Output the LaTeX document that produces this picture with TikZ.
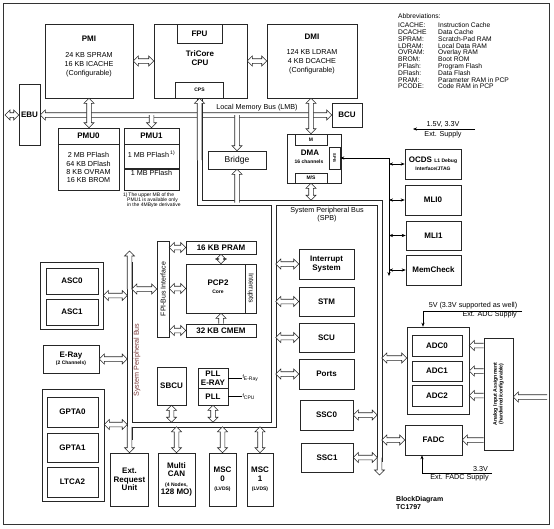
\documentclass[tikz,border=0pt]{standalone}
\usepackage{fontspec}
\setmainfont{Liberation Sans}
\usetikzlibrary{arrows.meta,calc,positioning}
\definecolor{spbred}{RGB}{120,55,55}

% hollow bus arrow, head at both ends
\newcommand{\busboth}[2]{%
  \filldraw[bus] (#1)
    -- ($(#1)!5pt!(#2)!5pt!90:(#2)$) -- ($(#1)!5pt!(#2)!2.3pt!90:(#2)$)
    -- ($(#2)!5pt!(#1)!2.3pt!-90:(#1)$) -- ($(#2)!5pt!(#1)!5pt!-90:(#1)$)
    -- (#2)
    -- ($(#2)!5pt!(#1)!5pt!90:(#1)$) -- ($(#2)!5pt!(#1)!2.3pt!90:(#1)$)
    -- ($(#1)!5pt!(#2)!2.3pt!-90:(#2)$) -- ($(#1)!5pt!(#2)!5pt!-90:(#2)$)
    -- cycle;}
% hollow bus arrow, head at the second end only
\newcommand{\busto}[2]{%
  \filldraw[bus] ($(#1)!2.3pt!90:(#2)$)
    -- ($(#2)!5pt!(#1)!2.3pt!-90:(#1)$) -- ($(#2)!5pt!(#1)!5pt!-90:(#1)$)
    -- (#2)
    -- ($(#2)!5pt!(#1)!5pt!90:(#1)$) -- ($(#2)!5pt!(#1)!2.3pt!90:(#1)$)
    -- ($(#1)!2.3pt!-90:(#2)$);}

\begin{document}
\begin{tikzpicture}[x=1pt, y=-1pt,
    blk/.style={draw=black!85, line width=0.6pt, fill=white, inner sep=0pt, align=center, font=\fontsize{8}{8.5}\selectfont\bfseries},
    grp/.style={draw=black!85, line width=0.6pt, fill=white, inner sep=0pt},
    ttl/.style={inner sep=0pt, align=center, font=\fontsize{8}{9}\selectfont\bfseries},
    txt/.style={inner sep=0pt, align=center, font=\fontsize{7.2}{9}\selectfont},
    fine/.style={inner sep=0pt, align=center, font=\fontsize{5}{5.6}\selectfont\bfseries},
    abbr/.style={inner sep=0pt, align=left, font=\fontsize{6.7}{6.8}\selectfont},
    bus/.style={draw=black!85, fill=white, line width=0.6pt, line join=miter},
    busline/.style={draw=black!85, line width=0.6pt},
    tarrow/.style={-{Stealth[length=4pt,width=3.2pt]}, line width=0.5pt},
    tboth/.style={{Stealth[length=4pt,width=3.2pt]}-{Stealth[length=4pt,width=3.2pt]}, line width=0.5pt}
]
\useasboundingbox (0,0) rectangle (554,528);
\draw[line width=0.8pt, draw=black!80] (3,3) rectangle (549,524);

% CPU and local memories
\node[blk, minimum width=88pt, minimum height=74pt] (pmi) at (89,61) {};
\node[ttl] (pminame) at (89,39) {PMI};
\node[txt] (pmimem) at (89,65) {24 KB SPRAM\\16 KB ICACHE\\(Configurable)};
\node[blk, minimum width=93pt, minimum height=74pt] (cpu) at (200.5,61) {};
\node[blk, minimum width=45pt, minimum height=19pt] (fpu) at (199.5,33.5) {FPU};
\node[ttl] (cpuname) at (200,58.5) {TriCore\\CPU};
\node[blk, fine, minimum width=48pt, minimum height=16pt] (cps) at (199.5,90) {CPS};
\node[blk, minimum width=90pt, minimum height=74pt] (dmi) at (312,61) {};
\node[ttl] (dminame) at (312,37) {DMI};
\node[txt] (dmimem) at (312,62) {124 KB LDRAM\\4 KB DCACHE\\(Configurable)};

% Abbreviations
\node[abbr, anchor=west] (abbrhead) at (398,16.5) {Abbreviations:};
\node[abbr, anchor=west] (abbrlist) at (398,56) {%
\makebox[40pt][l]{ICACHE:}Instruction Cache\\
\makebox[40pt][l]{DCACHE}Data Cache\\
\makebox[40pt][l]{SPRAM:}Scratch-Pad RAM\\
\makebox[40pt][l]{LDRAM:}Local Data RAM\\
\makebox[40pt][l]{OVRAM:}Overlay RAM\\
\makebox[40pt][l]{BROM:}Boot ROM\\
\makebox[40pt][l]{PFlash:}Program Flash\\
\makebox[40pt][l]{DFlash:}Data Flash\\
\makebox[40pt][l]{PRAM:}Parameter RAM in PCP\\
\makebox[40pt][l]{PCODE:}Code RAM in PCP};

% LMB side
\node[blk, minimum width=21pt, minimum height=61pt] (ebu) at (29.5,115) {EBU};
\node[blk, minimum width=30pt, minimum height=24pt] (bcu) at (347,115) {BCU};
\coordinate (ebuext) at (5,115);
\coordinate (lmb) at (0,115);
\node[blk, minimum width=61pt, minimum height=16pt] (pmu0) at (88.5,136) {PMU0};
\node[blk, txt, font=\fontsize{7.2}{8.3}\selectfont, minimum width=61pt, minimum height=46pt, below=0pt of pmu0] (pmu0mem) {2 MB PFlash\\64 KB DFlash\\8 KB OVRAM\\16 KB BROM};
\node[blk, minimum width=55pt, minimum height=16pt] (pmu1) at (151.5,136) {PMU1};
\node[blk, minimum width=55pt, minimum height=24pt, below=0pt of pmu1] (pmu1a) {};
\node[blk, minimum width=55pt, minimum height=21pt, below=0pt of pmu1a] (pmu1b) {};
\node[txt] (pmu1atxt) at (151.5,154.5) {1 MB PFlash\,\textsuperscript{1)}};
\node[txt] (pmu1btxt) at (151.5,173) {1 MB PFlash};
\node[inner sep=0pt, align=left, anchor=north west, font=\fontsize{5}{5}\selectfont] (pmunote) at (123,193) {1)\,The upper MB of the\\\hspace*{4pt}PMU1 is available only\\\hspace*{4pt}in the 4MByte derivative};
\node[blk, font=\fontsize{8.5}{9}\selectfont, minimum width=58pt, minimum height=18pt] (bridge) at (237,160) {Bridge};

% DMA
\node[blk, minimum width=54pt, minimum height=49pt] (dma) at (314,158.5) {};
\node[blk, fine, minimum width=32pt, minimum height=11pt] (dmam) at (311,139.5) {M};
\node[blk, fine, minimum width=32pt, minimum height=10pt] (dmams) at (311,178) {M/S};
\node[blk, minimum width=11pt, minimum height=22pt] (dmaspb) at (334.5,158) {};
\node[inner sep=0pt, font=\fontsize{4}{4}\selectfont\bfseries, rotate=-90] (dmaspbtxt) at (334.5,158) {SPB};
\node[ttl] (dmaname) at (310,152.5) {DMA};
\node[fine] (dmach) at (309,161.5) {16 channels};

% Debug and MLI column
\coordinate (dbg) at (389,158);
\coordinate (dbgend) at (389,276);
\node[blk, minimum width=56pt, minimum height=30pt] (ocds) at (433,164) {OCDS {\fontsize{5}{6}\selectfont L1 Debug}\\[-1pt]\fontsize{5}{6}\selectfont Interface/JTAG};
\node[blk, minimum width=56pt, minimum height=30pt] (mli0) at (433,200) {MLI0};
\node[blk, minimum width=55pt, minimum height=29pt] (mli1) at (433.5,235.5) {MLI1};
\node[blk, minimum width=55pt, minimum height=30pt] (memchk) at (433.5,270) {MemCheck};
\coordinate (vsup) at (475,129);
\coordinate (vsupend) at (413,129);
\node[txt] (vsupval) at (443,124) {1.5V, 3.3V};
\node[txt] (vsupname) at (443,134.5) {Ext. Supply};

% SPB peripherals
\node[txt, font=\fontsize{7.2}{7.5}\selectfont] (spbname) at (327,214.5) {System Peripheral Bus\\(SPB)};
\node[blk, minimum width=55pt, minimum height=30pt] (intsys) at (326.5,264) {Interrupt\\System};
\node[blk, minimum width=55pt, minimum height=29pt] (stm) at (326.5,301.5) {STM};
\node[blk, minimum width=55pt, minimum height=29pt] (scu) at (326.5,337.5) {SCU};
\node[blk, minimum width=55pt, minimum height=30pt] (ports) at (326.5,374) {Ports};
\node[blk, minimum width=53pt, minimum height=30pt] (ssc0) at (326.5,415) {SSC0};
\node[blk, minimum width=52pt, minimum height=29pt] (ssc1) at (327,457.5) {SSC1};

% ADC
\node[grp, minimum width=62pt, minimum height=87pt] (adc) at (438,370.5) {};
\node[blk, minimum width=50pt, minimum height=21pt] (adc0) at (437,345.5) {ADC0};
\node[blk, minimum width=50pt, minimum height=20pt] (adc1) at (437,371) {ADC1};
\node[blk, minimum width=50pt, minimum height=21pt] (adc2) at (437,395.5) {ADC2};
\node[blk, minimum width=57pt, minimum height=30pt] (fadc) at (433.5,440) {FADC};
\node[blk, minimum width=29pt, minimum height=112pt] (ain) at (498.5,394) {};
\node[fine, font=\fontsize{5.2}{5.8}\selectfont\bfseries, rotate=90] (aintxt) at (498.5,394) {Analog Input Assignment\\(hardwired/configurable)};
\coordinate (ainext) at (547,397);
\coordinate (adcport) at ([yshift=12.5pt]adc.west);
\coordinate (adcsup) at (522,311);
\coordinate (adcsupend) at (423,311);
\node[txt] (adcsupval) at (473,306) {5V (3.3V supported as well)};
\node[txt, anchor=east] (adcsupname) at (517,315) {Ext. ADC Supply};
\coordinate (fsup) at (492,473);
\coordinate (fsupend) at (422,473);
\node[txt] (fsupval) at (480.5,469) {3.3V};
\node[txt] (fsupname) at (459.5,477.5) {Ext. FADC Supply};
\node[ttl, font=\fontsize{7}{8}\selectfont\bfseries, align=left, anchor=west] (diagname) at (396,503) {BlockDiagram\\TC1797};

% PCP
\node[blk, minimum width=12pt, minimum height=96pt] (fpi) at (163,289) {};
\node[inner sep=0pt, font=\fontsize{7}{7}\selectfont, rotate=90] (fpitxt) at (163,289) {FPI-Bus Interface};
\node[blk, minimum width=70pt, minimum height=13pt] (pram) at (221,247.5) {16 KB PRAM};
\node[blk, minimum width=70pt, minimum height=49pt] (pcp) at (221,288.5) {};
\node[blk, minimum width=11pt, minimum height=49pt] (pcpint) at (250.5,288.5) {};
\node[inner sep=0pt, font=\fontsize{7}{7}\selectfont, rotate=-90] (pcpinttxt) at (250.5,288.5) {Interrupts};
\node[ttl] (pcpname) at (218,283) {PCP2};
\node[fine] (pcpcore) at (218,291.5) {Core};
\node[blk, minimum width=70pt, minimum height=13pt] (cmem) at (221,330.5) {32 KB CMEM};

% left peripherals
\node[grp, minimum width=63pt, minimum height=67pt] (asc) at (71.5,295.5) {};
\node[blk, minimum width=52pt, minimum height=26pt] (asc0) at (72,281) {ASC0};
\node[blk, minimum width=52pt, minimum height=26pt] (asc1) at (72,312) {ASC1};
\node[blk, minimum width=56pt, minimum height=28pt] (eray) at (71,359) {E-Ray\\[-1pt]\fontsize{5}{6}\selectfont(2 Channels)};
\node[grp, minimum width=62pt, minimum height=112pt] (gpta) at (73,445) {};
\node[blk, minimum width=51pt, minimum height=30pt] (gpta0) at (72.5,412) {GPTA0};
\node[blk, minimum width=51pt, minimum height=29pt] (gpta1) at (72.5,447.5) {GPTA1};
\node[blk, minimum width=51pt, minimum height=30pt] (ltca2) at (72.5,482) {LTCA2};
\node[txt, rotate=90, text=spbred] (lbusname) at (137,360) {System Peripheral Bus};

% bottom row
\node[blk, minimum width=38pt, minimum height=53pt] (extreq) at (129.5,479.5) {Ext.\\Request\\Unit};
\node[blk, minimum width=37pt, minimum height=53pt] (mcan) at (176.5,479.5) {Multi\\CAN\\[1pt]\fontsize{5}{5.5}\selectfont(4 Nodes,\\128 MO)};
\node[blk, minimum width=27pt, minimum height=53pt] (msc0) at (222.5,479.5) {MSC\\0\\[1pt]\fontsize{5}{5.5}\selectfont(LVDS)};
\node[blk, minimum width=26pt, minimum height=53pt] (msc1) at (260,479.5) {MSC\\1\\[1pt]\fontsize{5}{5.5}\selectfont(LVDS)};
\node[blk, minimum width=29pt, minimum height=38pt] (sbcu) at (171.5,386) {SBCU};
\node[blk, minimum width=30pt, minimum height=20pt] (pllr) at (213,378) {PLL\\E-RAY};
\node[blk, minimum width=30pt, minimum height=17pt] (pll) at (213,396.5) {PLL};

% bus geometry
\coordinate (spbtop) at (379.5,202.5);
\coordinate (spbleft) at (129.5,424.5);
\coordinate (lbustop) at (129.5,251);
\coordinate (rbusend) at (379.5,475);
\coordinate (tbusN) at (0,200.2);
\coordinate (mbusE) at (275.8,0);
\coordinate (rbusW) at (377.2,0);
\coordinate (rbusE) at (381.8,0);
\coordinate (lbusW) at (127.2,0);
\coordinate (lbusE) at (131.8,0);
\coordinate (bbusN) at (0,422.2);
\coordinate (bbusS) at (0,426.8);

% LMB
\busboth{ebuext}{ebu.west}
\busboth{ebu.east}{bcu.west}
\node[txt] (lmbname) at (257,108) {Local Memory Bus (LMB)};

% SPB
\draw[busline] (197.2,98) -- (197.2,204.8) -- (271.2,204.8) -- (271.2,422.2) -- (131.8,422.2) -- (131.8,262);
\draw[busline] (201.8,98) -- (201.8,200.2) -- (381.8,200.2) -- (381.8,462);
\draw[busline] (275.8,204.8) -- (377.2,204.8) -- (377.2,462);
\draw[busline] (275.8,204.8) -- (275.8,426.8) -- (131.8,426.8) -- (131.8,440);
\draw[busline] (127.2,262) -- (127.2,440);
\busto{cps.south |- bridge}{cps.south}
\busto{fpi.west -| lbustop}{lbustop}
\busto{extreq.north |- bbusS}{extreq.north}
\busto{ssc1.east -| rbusend}{rbusend}

% bus connections
\busboth{pmi.east}{cpu.west}
\busboth{cpu.east}{dmi.west}
\busboth{pmi.south}{pmi.south |- pmu0.north}
\busto{pmu1.north |- lmb}{pmu1.north}
\busto{bridge.north |- lmb}{bridge.north}
\busto{bridge.south |- spbtop}{bridge.south}
\busboth{dmam.north |- dmi.south}{dmam.north}
\busboth{dmams.south}{dmams.south |- tbusN}
\foreach \p in {intsys,stm,scu,ports} {\busboth{\p.west -| mbusE}{\p.west}}
\foreach \p in {ssc0,ssc1} {\busboth{\p.east}{\p.east -| rbusW}}
\busboth{adcport -| rbusE}{adcport}
\busboth{fadc.west -| rbusE}{fadc.west}
\foreach \p in {adc0,adc1,adc2} {\busto{\p -| ain.west}{\p -| adc.east}}
\busto{fadc -| ain.west}{fadc.east}
\busto{ainext}{ainext -| ain.east}
\busboth{fpi.west -| lbusE}{fpi.west}
\foreach \p in {pram,pcp,cmem} {\busboth{\p.west -| fpi.east}{\p.west}}
\busboth{pram.south}{pcp.north}
\busto{cmem.north}{pcp.south}
\busboth{asc.east}{asc.east -| lbusW}
\busboth{eray.east}{eray.east -| lbusW}
\busboth{gpta.east |- spbleft}{spbleft -| lbusW}
\foreach \p in {sbcu,pll} {\busboth{\p.south}{\p.south |- bbusN}}
\foreach \p in {mcan,msc0,msc1} {\busboth{\p.north |- bbusS}{\p.north}}

% thin arrows
\draw[tarrow] (dbg) -- (dmaspb.east);
\draw[tarrow] (dbg) -- (dbgend);
\foreach \p in {ocds,mli0,mli1,memchk} {\draw[tboth] (\p.west -| dbg) -- (\p.west);}
\draw[tarrow] (vsup) -- (vsupend);
\draw[tarrow] (adcsup) -- (adcsupend) -- (adcsupend |- adc.north);
\draw[tarrow] (fsup) -- (fsupend) -- (fsupend |- fadc.south);
\draw[line width=0.5pt] (pllr.east) -- ++(14,0) node[inner sep=0pt, anchor=west, font=\fontsize{5}{5}\selectfont] (feray) {f\textsubscript{E-Ray}};
\draw[line width=0.5pt] (pll.east) -- ++(14,0) node[inner sep=0pt, anchor=west, font=\fontsize{5}{5}\selectfont] (fcpu) {f\textsubscript{CPU}};

\end{tikzpicture}
\end{document}
